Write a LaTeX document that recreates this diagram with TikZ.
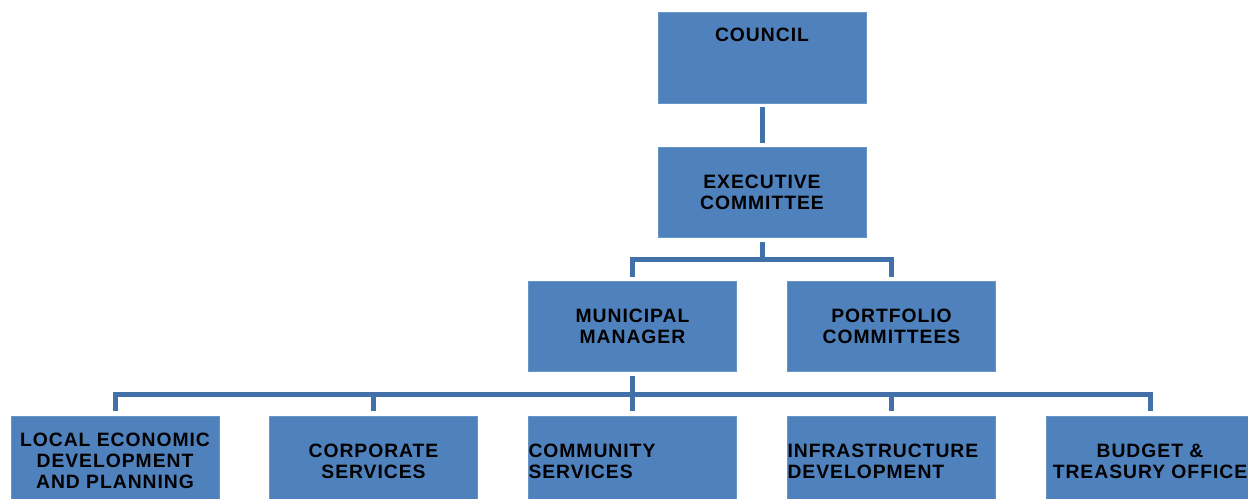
\documentclass[tikz,border=0pt]{standalone}
\usepackage{fontspec}
\newfontfamily\chartfont{Liberation Sans}[LetterSpace=5]
\usetikzlibrary{positioning}
\definecolor{boxblue}{RGB}{79,129,189}
\definecolor{linkblue}{RGB}{66,112,168}

\begin{document}
\begin{tikzpicture}[
    x=0.02cm, y=-0.02cm,
    font=\chartfont\bfseries\fontsize{11}{12}\selectfont,
    unit/.style={fill=boxblue, draw=boxblue!85!white, align=center, inner sep=0pt,
                 minimum width=4.16cm, minimum height=1.8cm},
    leftunit/.style={unit, align=left, text width=4.16cm},
    link/.style={draw=linkblue, line width=0.1cm}
]
\useasboundingbox (0,0) rectangle (1248,499);
\clip (0,0) rectangle (1248,499);

% --- top of the chart ---
\node[unit, minimum height=1.82cm, text depth=0.92cm] (council) at (762,57.5) {COUNCIL};
\node[unit] (exec) at (762,192) {EXECUTIVE\\COMMITTEE};

% --- second level ---
\node[unit] (manager) at (632.5,326) {MUNICIPAL\\MANAGER};
\node[unit] (portfolio) at (891.5,326) {PORTFOLIO\\COMMITTEES};

% --- departments ---
\node[unit] (led) at (115,461) {LOCAL ECONOMIC\\DEVELOPMENT\\AND PLANNING};
\node[unit] (corporate) at (373.5,461) {CORPORATE\\SERVICES};
\node[leftunit] (community) at (632.5,461) {COMMUNITY\\SERVICES};
\node[leftunit] (infra) at (891.5,461) {INFRASTRUCTURE\\DEVELOPMENT};
\node[unit] (budget) at (1150,461) {BUDGET \&\\TREASURY OFFICE};

% connectors
\path (exec.south) ++(0,22) coordinate (exec-bar);
\path (manager.south) ++(0,23) coordinate (manager-bar);

\draw[link, shorten <=0.08cm, shorten >=0.08cm] (council) -- (exec);
\draw[link, shorten <=0.1cm] (exec.south) -- (exec-bar);
\draw[link, shorten <=0.08cm, shorten >=0.08cm] (manager.north) |- (exec-bar) -| (portfolio.north);

\draw[link, shorten <=0.1cm, shorten >=0.1cm] (manager) -- (community);
\draw[link, shorten <=0.1cm, shorten >=0.1cm] (led.north) |- (manager-bar) -| (budget.north);
\foreach \dept in {corporate, infra}
    \draw[link, shorten >=0.1cm] (manager-bar -| \dept.north) -- (\dept.north);

\end{tikzpicture}
\end{document}
